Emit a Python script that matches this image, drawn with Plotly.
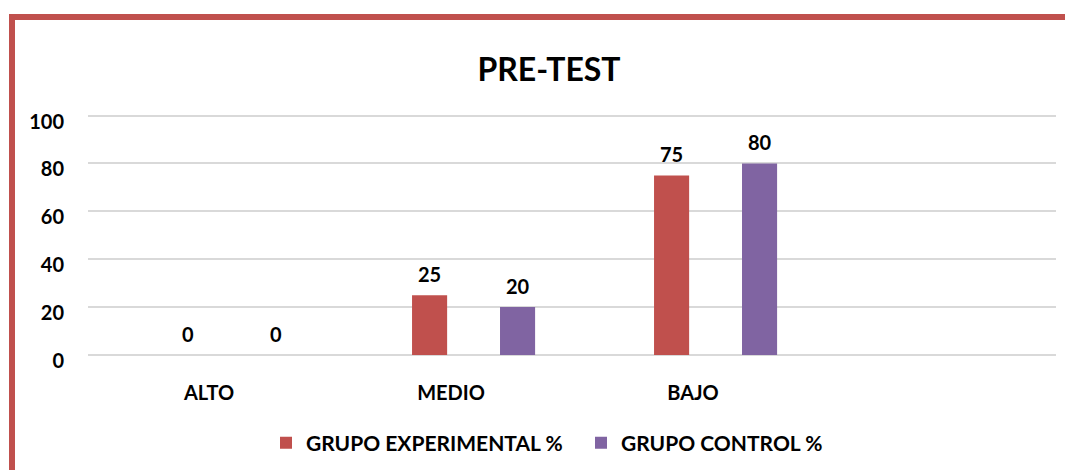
import plotly.graph_objects as go

categories = ["ALTO", "MEDIO", "BAJO"]
axis_categories = ["ALTO", "MEDIO", "BAJO", " "]
experimental = [0, 25, 75]
control = [0, 20, 80]
series_names = ["GRUPO EXPERIMENTAL %", "GRUPO CONTROL %"]
title_text = "PRE-TEST"

RED = "#C0504D"
PURPLE = "#8064A2"
FONT = "Lato"

# page body has an 8px margin; figure coordinates are page coordinates minus 8
OFF = 8
W, H = 1073 - OFF, 470 - OFF
L, R, T = 88 - OFF, 17, 112 - OFF
B = H - (355 - OFF)
pw, ph = W - L - R, H - T - B

def px_x(p):
    return (p - OFF - L) / pw

def px_y(p):
    return (H - B - (p - OFF)) / ph

BAR_W = 0.145
OFFS = [-0.161, 0.2025]
cat_px = pw / len(axis_categories)

fig = go.Figure()
for name, vals, col, off in [(series_names[0], experimental, RED, OFFS[0]),
                             (series_names[1], control, PURPLE, OFFS[1])]:
    fig.add_trace(go.Bar(
        x=categories, y=vals, name=name,
        marker=dict(color=col, line=dict(width=0)),
        width=BAR_W, offset=off, cliponaxis=False,
    ))
    for c, v in zip(categories, vals):
        fig.add_annotation(
            x=c, y=v, text=f"<b>{v}</b>", showarrow=False,
            xshift=(off + BAR_W / 2) * cat_px, yshift=7,
            yanchor="bottom", xanchor="center",
            font=dict(family=FONT, size=20, color="black"),
        )

fig.update_layout(
    width=W, height=H,
    margin=dict(l=L, r=R, t=T, b=B, autoexpand=False),
    paper_bgcolor="white", plot_bgcolor="white",
    title=dict(text=title_text, x=px_x(549), xanchor="center", xref="paper",
               y=1 - (70 - OFF) / H, yanchor="middle",
               font=dict(family=FONT, size=32, color="black", weight="bold")),
    xaxis=dict(categoryorder="array", categoryarray=axis_categories,
               range=[-0.5, 3.5], showgrid=False, zeroline=False, showline=False,
               ticks="", ticklabelstandoff=24, automargin=False,
               tickfont=dict(family=FONT, size=20, color="black", weight="bold")),
    yaxis=dict(range=[0, 101.5], tickvals=[0, 20, 40, 60, 80, 100], showgrid=True,
               gridcolor="#D9D9D9",
               gridwidth=1.5, zeroline=True, zerolinecolor="#D9D9D9", zerolinewidth=1.5,
               showline=False, ticks="", ticklabelstandoff=23, ticklabelshift=6,
               automargin=False,
               tickfont=dict(family=FONT, size=20, color="black", weight="bold")),
    showlegend=True,
    legend=dict(orientation="h", x=px_x(581), xanchor="center", xref="paper",
                y=px_y(443), yanchor="middle",
                font=dict(family=FONT, size=21, color="black", weight="bold"),
                traceorder="normal", entrywidth=270),
    shapes=[dict(type="rect", xref="paper", yref="paper",
                 x0=px_x(12), x1=px_x(1100), y0=px_y(520), y1=px_y(17),
                 line=dict(color=RED, width=6), fillcolor="rgba(0,0,0,0)", layer="above")],
)

fig.write_html("out.html")
